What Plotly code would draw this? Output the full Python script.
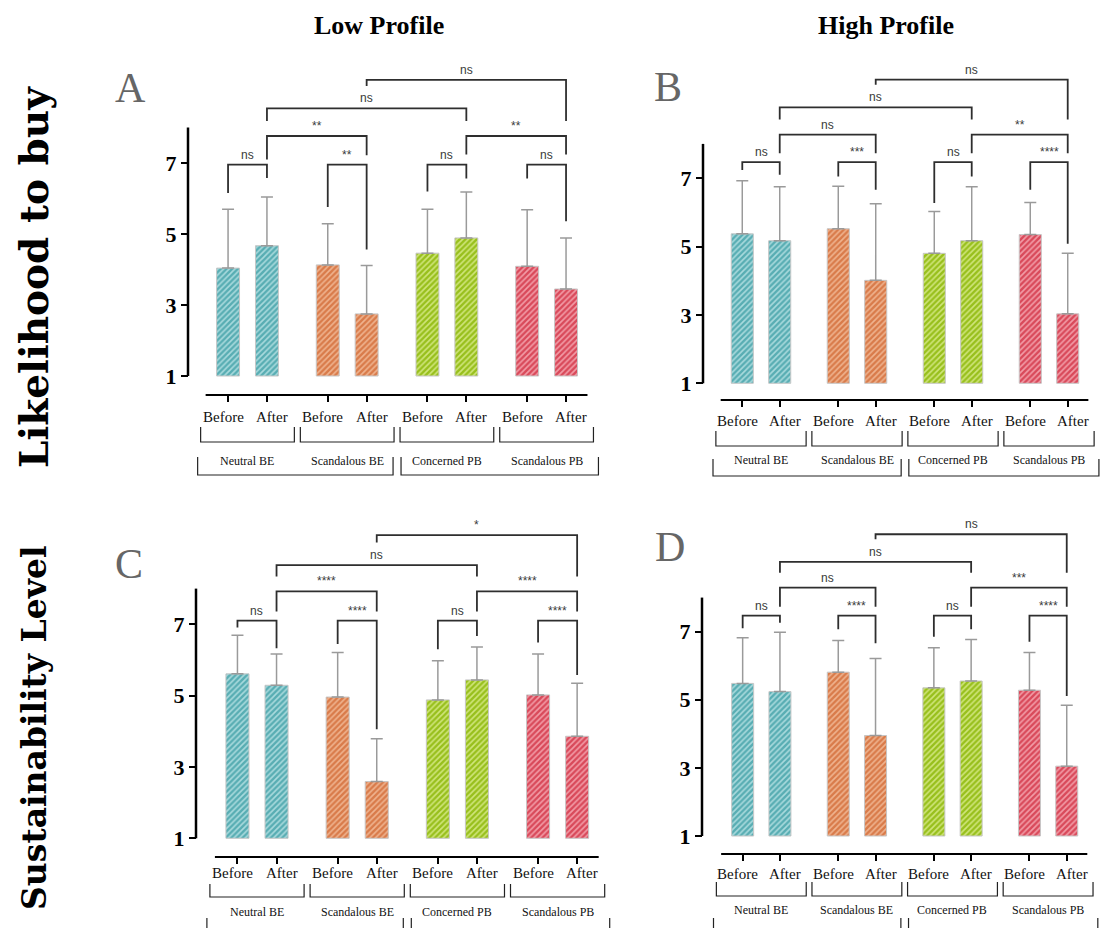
import plotly.graph_objects as go

W, H = 1104, 928

groups = ["Neutral BE", "Scandalous BE", "Concerned PB", "Scandalous PB"]
phases = ["Before", "After"]
bar_colors = ["#58adb3", "#d97b4a", "#98c01c", "#d9495a"]
stripe_colors = ["#a9dadd", "#efb38f", "#d0e57c", "#f29ca7"]

col_titles = ["Low Profile", "High Profile"]
row_titles = ["Likelihood to buy", "Sustainability Level"]
y_ticks = [1, 3, 5, 7]

# means and upper error (SD) for bars: NBE b/a, SBE b/a, CPB b/a, SPB b/a
a_mean = [4.04, 4.67, 4.13, 2.75, 4.46, 4.89, 4.09, 3.45]
a_err = [1.66, 1.37, 1.16, 1.36, 1.24, 1.29, 1.59, 1.44]
b_mean = [5.37, 5.17, 5.52, 4.01, 4.80, 5.17, 5.35, 3.03]
b_err = [1.55, 1.58, 1.24, 2.24, 1.22, 1.58, 0.94, 1.77]
c_mean = [5.61, 5.29, 4.96, 2.59, 4.88, 5.44, 5.02, 3.86]
c_err = [1.08, 0.88, 1.25, 1.20, 1.10, 0.92, 1.15, 1.49]
d_mean = [5.48, 5.24, 5.81, 3.95, 5.35, 5.55, 5.28, 3.05]
d_err = [1.34, 1.74, 0.93, 2.26, 1.18, 1.22, 1.11, 1.79]

# significance comparisons: (bar i, bar j)
comparisons = [(0, 1), (2, 3), (4, 5), (6, 7), (1, 3), (5, 7), (1, 5), (3, 7)]
a_sig = ["ns", "**", "ns", "ns", "**", "**", "ns", "ns"]
b_sig = ["ns", "***", "ns", "****", "ns", "**", "ns", "ns"]
c_sig = ["ns", "****", "ns", "****", "****", "****", "ns", "*"]
d_sig = ["ns", "****", "ns", "****", "ns", "***", "ns", "ns"]

# bracket geometry (y of horizontal, y of left leg end, y of right leg end)
a_geo = [(6.955, 6.155, 6.58), (6.955, 5.76, 4.56), (6.955, 6.2, 6.56), (6.955, 6.56, 5.36),
         (7.76, 7.1, 7.22), (7.76, 7.24, 7.24), (8.54, 8.18, 8.18), (9.34, 9.17, 8.18)]
b_geo = [(7.47, 7.24, 7.10), (7.47, 7.05, 6.66), (7.47, 6.27, 7.05), (7.47, 6.66, 5.08),
         (8.27, 7.73, 7.73), (8.27, 7.73, 7.73), (9.07, 8.71, 8.71), (9.88, 9.73, 8.71)]
c_geo = [(7.10, 6.91, 6.33), (7.10, 6.45, 4.06), (7.10, 6.30, 6.67), (7.10, 6.49, 5.58),
         (7.92, 7.36, 7.36), (7.92, 7.36, 7.36), (8.66, 8.34, 8.34), (9.50, 9.29, 8.34)]
d_geo = [(7.47, 7.10, 7.26), (7.47, 7.07, 6.66), (7.47, 6.85, 7.07), (7.47, 6.70, 5.11),
         (8.29, 7.73, 7.73), (8.29, 7.73, 7.73), (9.05, 8.73, 8.73), (9.86, 9.71, 8.73)]

panels = [
    dict(letter="A", mean=a_mean, err=a_err, sig=a_sig, geo=a_geo, p1=376, u=35.5, xline=395, top=58,
         yx=188, c0=247.5, xu=99.7, lab_y=417, br=(427, 442), grp_y=461, big=(457, 475), lpos=(130, 88)),
    dict(letter="B", mean=b_mean, err=b_err, sig=b_sig, geo=b_geo, p1=383.3, u=34.2, xline=400, top=58,
         yx=703, c0=761.0, xu=96.0, lab_y=421, br=(431, 446), grp_y=460, big=(459, 476), lpos=(668, 87)),
    dict(letter="C", mean=c_mean, err=c_err, sig=c_sig, geo=c_geo, p1=838.3, u=35.67, xline=857, top=515,
         yx=196, c0=257.0, xu=100.2, lab_y=873, br=(884, 897), grp_y=912, big=(918, 940), lpos=(129, 564)),
    dict(letter="D", mean=d_mean, err=d_err, sig=d_sig, geo=d_geo, p1=836, u=34.06, xline=854, top=515,
         yx=702, c0=761.3, xu=95.6, lab_y=874, br=(882, 896), grp_y=910, big=(918, 940), lpos=(670, 547)),
]

SERIF = "Liberation Serif, Times New Roman, serif"
SANS = "Liberation Sans, Arial, sans-serif"

xpos = [g + d for g in range(4) for d in (-0.195, 0.195)]
ticktext = phases * 4

fig = go.Figure()
layout = dict(width=W, height=H, margin=dict(l=0, r=0, t=0, b=0),
              paper_bgcolor="white", plot_bgcolor="rgba(0,0,0,0)", showlegend=False)
shapes = []
annotations = []


def py(p):
    return 1 - p / H


for k, P in enumerate(panels, start=1):
    xs = "" if k == 1 else str(k)
    xa, ya = "x" + xs, "y" + xs
    for g in range(4):
        sl = slice(2 * g, 2 * g + 2)
        fig.add_trace(go.Bar(
            x=xpos[sl], y=[m - 1 for m in P["mean"][sl]], base=1, width=0.23,
            marker=dict(color=bar_colors[g], line=dict(color="#c6c6c6", width=1),
                        pattern=dict(shape="/", fgcolor=stripe_colors[g], size=4,
                                     solidity=0.4, fillmode="overlay", fgopacity=1)),
            error_y=dict(type="data", symmetric=False, array=P["err"][sl], arrayminus=[0, 0],
                         color="#9a9a9a", thickness=1.5, width=6),
            xaxis=xa, yaxis=ya, hoverinfo="skip"))

    lpx = P["c0"] - 0.62 * P["xu"]
    rpx = min(W, P["c0"] + 3.6 * P["xu"])
    xr = [(lpx - P["c0"]) / P["xu"], (rpx - P["c0"]) / P["xu"]]
    yr = [1 - (P["xline"] - P["p1"]) / P["u"], 1 + (P["p1"] - P["top"]) / P["u"]]

    layout["xaxis" + xs] = dict(
        domain=[lpx / W, rpx / W], range=xr, anchor=ya, showgrid=False, zeroline=False,
        showline=False, tickmode="array", tickvals=xpos, showticklabels=False,
        ticks="outside", ticklen=6, tickwidth=1.5, tickcolor="black")
    layout["yaxis" + xs] = dict(
        domain=[py(P["xline"]), py(P["top"])], range=yr, anchor="free", position=P["yx"] / W,
        showgrid=False, zeroline=False, showline=False, tickmode="array", tickvals=y_ticks,
        ticks="outside", ticklen=7, tickwidth=2, tickcolor="black",
        tickfont=dict(family=SERIF, size=22, color="black", weight="bold"))

    # category labels under each bar
    for i, txt in enumerate(ticktext):
        annotations.append(dict(xref=xa, yref="paper", x=xpos[i], y=py(P["lab_y"]), text=txt,
                                xanchor="center", yanchor="middle", xshift=-5 if i % 2 == 0 else 5,
                                showarrow=False, font=dict(family=SERIF, size=15, color="#111")))

    # y axis line 1..8
    shapes.append(dict(type="line", xref="paper", yref=ya, x0=P["yx"] / W, x1=P["yx"] / W,
                       y0=1, y1=8, line=dict(color="black", width=2.5)))
    # x axis line
    shapes.append(dict(type="line", xref=xa, yref="paper", x0=-0.42, x1=3.41,
                       y0=py(P["xline"]), y1=py(P["xline"]), line=dict(color="black", width=2)))
    # pair brackets under labels
    t, b = py(P["br"][0]), py(P["br"][1])
    for g in range(4):
        x0, x1 = g - 0.47, g + 0.47
        shapes.append(dict(type="path", xref=xa, yref="paper",
                           path=f"M {x0},{t} L {x0},{b} L {x1},{b} L {x1},{t}",
                           line=dict(color="#222", width=1.2)))
        annotations.append(dict(xref=xa, yref="paper", x=g, y=py(P["grp_y"]), text=groups[g],
                                xanchor="center", yanchor="middle",
                                showarrow=False, font=dict(family=SERIF, size=12, color="#111")))
    # big brackets BE / PB
    t, b = py(P["big"][0]), py(P["big"][1])
    for x0, x1 in [(-0.5, 1.46), (1.54, 3.52)]:
        shapes.append(dict(type="path", xref=xa, yref="paper",
                           path=f"M {x0},{t} L {x0},{b} L {x1},{b} L {x1},{t}",
                           line=dict(color="#222", width=1.2)))
    # significance brackets
    for (i, j), lab, (yh, yl, yrr) in zip(comparisons, P["sig"], P["geo"]):
        xi, xj = xpos[i], xpos[j]
        shapes.append(dict(type="path", xref=xa, yref=ya,
                           path=f"M {xi},{yl} L {xi},{yh} L {xj},{yh} L {xj},{yrr}",
                           line=dict(color="#2e2e2e", width=1.8)))
        annotations.append(dict(xref=xa, yref=ya, x=(xi + xj) / 2, y=yh, yanchor="bottom",
                                xanchor="center", yshift=1, text=lab, showarrow=False,
                                font=dict(family=SANS, size=12, color="#3a3a3a")))
    # panel letter
    annotations.append(dict(xref="paper", yref="paper", x=P["lpos"][0] / W, y=py(P["lpos"][1]),
                            xanchor="center", yanchor="middle",
                            text=P["letter"], showarrow=False,
                            font=dict(family=SERIF, size=42, color="#666")))

# column titles
for txt, xp in zip(col_titles, [379, 886]):
    annotations.append(dict(xref="paper", yref="paper", x=xp / W, y=py(25), text=txt,
                            xanchor="center", yanchor="middle", showarrow=False,
                            font=dict(family=SERIF, size=26, color="black", weight="bold")))
# row titles
for txt, yp, fs in zip(row_titles, [277, 728], [39, 33]):
    annotations.append(dict(xref="paper", yref="paper", x=34 / W, y=py(yp), text=txt, textangle=-90,
                            xanchor="center", yanchor="middle", showarrow=False,
                            font=dict(family="DejaVu Serif, serif", size=fs,
                                      color="black", weight="bold")))

layout["shapes"] = shapes
layout["annotations"] = annotations
fig.update_layout(**layout)
fig.write_html("out.html")
